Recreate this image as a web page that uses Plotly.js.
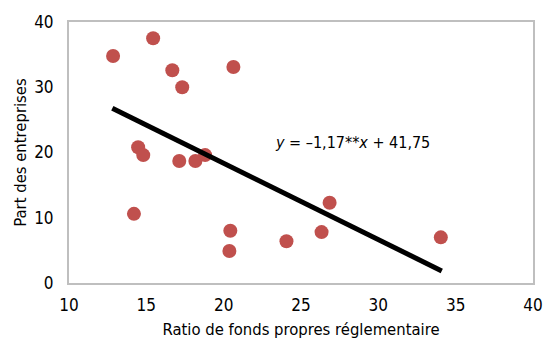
<!DOCTYPE html>
<html>
<head>
<meta charset="utf-8">
<script src="https://cdn.plot.ly/plotly-3.0.1.min.js"></script>
<style>html,body{margin:0;padding:0;background:#fff;}#chart{width:543px;height:339px;}</style>
</head>
<body>
<div id="chart"></div>
<script>
const ratioFonds = [12.85, 15.44, 16.68, 17.32, 20.63, 14.47, 14.8, 17.13, 18.17, 18.8, 14.2, 20.43, 20.37, 24.06, 26.85, 26.33, 34.04];
const partEntreprises = [34.8, 37.5, 32.6, 30.0, 33.1, 20.8, 19.6, 18.7, 18.7, 19.6, 10.6, 8.0, 4.9, 6.4, 12.3, 7.8, 7.0];
const trendX = [12.8, 34.1];
const slope = -1.17, intercept = 41.75;
const trendY = trendX.map(x => slope * x + intercept);
const xTicks = [10, 15, 20, 25, 30, 35, 40];
const yTicks = [0, 10, 20, 30, 40];
const equationText = '<i>y</i> = –1,17**<i>x</i> + 41,75';

const FONT = '"DejaVu Sans Condensed", "Liberation Sans Narrow", "Liberation Sans", Arial, sans-serif';
const FS = 17;
const FT = 16.5;

const traces = [
  {
    x: ratioFonds, y: partEntreprises, type: 'scatter', mode: 'markers',
    marker: {color: '#C0504D', size: 14},
    hoverinfo: 'skip', showlegend: false
  },
  {
    x: trendX, y: trendY, type: 'scatter', mode: 'lines',
    line: {color: '#000000', width: 5},
    hoverinfo: 'skip', showlegend: false
  }
];

const layout = {
  width: 543, height: 339,
  margin: {l: 69, r: 10, t: 22, b: 56},
  paper_bgcolor: '#ffffff', plot_bgcolor: '#ffffff',
  font: {family: FONT, size: FS, color: '#000'},
  showlegend: false,
  xaxis: {
    range: [10, 40], tickvals: xTicks, ticktext: xTicks.map(String),
    showgrid: false, zeroline: false,
    showline: true, mirror: true, linecolor: '#BFBFBF', linewidth: 2,
    ticks: '', ticklen: 0, ticklabelstandoff: 6,
    tickfont: {family: FONT, size: FS, color: '#000'},
    title: {text: 'Ratio de fonds propres réglementaire', font: {family: FONT, size: FT, color: '#000'}, standoff: 9}
  },
  yaxis: {
    range: [0, 40], tickvals: yTicks, ticktext: yTicks.map(String),
    showgrid: false, zeroline: false,
    showline: true, mirror: true, linecolor: '#BFBFBF', linewidth: 2,
    ticks: '', ticklen: 0, ticklabelstandoff: 10,
    tickfont: {family: FONT, size: FS, color: '#000'},
    title: {text: 'Part des entreprises', font: {family: FONT, size: FT, color: '#000'}, standoff: 3}
  },
  annotations: [{
    x: 28.34, y: 21.5, xref: 'x', yref: 'y', text: equationText,
    showarrow: false, font: {family: FONT, size: 16, color: '#000'}
  }]
};

Plotly.newPlot('chart', traces, layout, {staticPlot: true, displayModeBar: false});
</script>
</body>
</html>
